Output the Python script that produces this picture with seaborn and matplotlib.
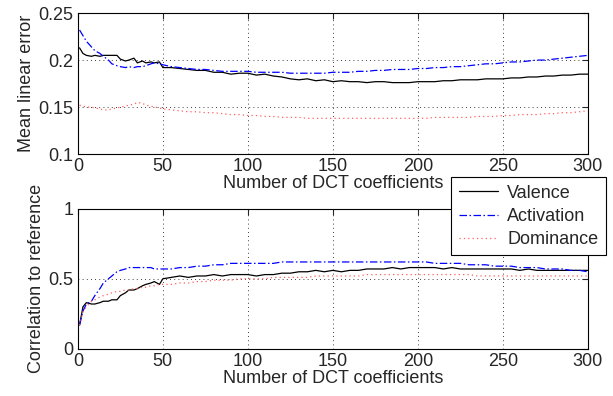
import matplotlib
matplotlib.use("Agg")
import matplotlib.pyplot as plt
import numpy as np
import pandas as pd
import seaborn as sns

# number of DCT coefficients (sampled every 5 after the start)
n_coef = [1, 3, 5, 8, 10, 13, 15, 18, 20, 23, 25, 28, 30, 33, 35, 38, 40, 43, 45, 48,
          50, 55, 60, 65, 70, 75, 80, 85, 90, 95, 100, 105, 110, 115, 120, 125, 130,
          135, 140, 145, 150, 155, 160, 165, 170, 175, 180, 185, 190, 195, 200, 205,
          210, 215, 220, 225, 230, 235, 240, 245, 250, 255, 260, 265, 270, 275, 280,
          285, 290, 295, 300]

# mean linear error
err_valence = [0.213, 0.207, 0.205, 0.204, 0.205, 0.204, 0.205, 0.205, 0.205, 0.205,
               0.201, 0.199, 0.200, 0.202, 0.197, 0.199, 0.197, 0.198, 0.197, 0.198,
               0.192, 0.192, 0.191, 0.190, 0.189, 0.189, 0.187, 0.187, 0.185, 0.186,
               0.186, 0.184, 0.185, 0.183, 0.182, 0.180, 0.179, 0.180, 0.178, 0.179,
               0.177, 0.178, 0.177, 0.177, 0.176, 0.177, 0.177, 0.176, 0.176, 0.176,
               0.177, 0.177, 0.177, 0.178, 0.178, 0.179, 0.179, 0.179, 0.180, 0.180,
               0.180, 0.181, 0.181, 0.182, 0.182, 0.183, 0.183, 0.184, 0.184, 0.185,
               0.185]
err_activation = [0.232, 0.226, 0.220, 0.214, 0.210, 0.207, 0.204, 0.200, 0.196, 0.194,
                  0.193, 0.192, 0.193, 0.192, 0.193, 0.193, 0.194, 0.196, 0.197, 0.196,
                  0.195, 0.193, 0.192, 0.191, 0.190, 0.190, 0.189, 0.188, 0.188, 0.188,
                  0.188, 0.187, 0.187, 0.187, 0.187, 0.186, 0.186, 0.186, 0.186, 0.186,
                  0.187, 0.187, 0.187, 0.188, 0.188, 0.189, 0.189, 0.190, 0.190, 0.190,
                  0.191, 0.191, 0.192, 0.192, 0.193, 0.193, 0.194, 0.195, 0.196, 0.196,
                  0.197, 0.198, 0.198, 0.199, 0.200, 0.200, 0.201, 0.202, 0.203, 0.204,
                  0.205]
err_dominance = [0.152, 0.151, 0.150, 0.150, 0.149, 0.148, 0.147, 0.147, 0.148, 0.149,
                 0.150, 0.151, 0.152, 0.153, 0.155, 0.154, 0.152, 0.151, 0.150, 0.149,
                 0.148, 0.147, 0.146, 0.145, 0.145, 0.144, 0.144, 0.143, 0.142, 0.142,
                 0.141, 0.141, 0.140, 0.140, 0.139, 0.139, 0.139, 0.138, 0.138, 0.138,
                 0.138, 0.138, 0.138, 0.138, 0.138, 0.138, 0.138, 0.138, 0.138, 0.138,
                 0.138, 0.138, 0.139, 0.139, 0.139, 0.139, 0.139, 0.140, 0.140, 0.140,
                 0.141, 0.141, 0.142, 0.142, 0.142, 0.143, 0.143, 0.144, 0.144, 0.145,
                 0.146]

# correlation to reference
cor_valence = [0.17, 0.30, 0.33, 0.32, 0.32, 0.33, 0.34, 0.34, 0.35, 0.35,
               0.38, 0.40, 0.42, 0.42, 0.43, 0.45, 0.46, 0.47, 0.48, 0.46,
               0.50, 0.51, 0.52, 0.51, 0.52, 0.52, 0.53, 0.52, 0.53, 0.53,
               0.53, 0.52, 0.53, 0.53, 0.54, 0.54, 0.55, 0.55, 0.56, 0.55,
               0.56, 0.55, 0.56, 0.56, 0.57, 0.57, 0.57, 0.58, 0.57, 0.58,
               0.58, 0.58, 0.58, 0.57, 0.58, 0.57, 0.57, 0.57, 0.57, 0.57,
               0.57, 0.57, 0.56, 0.57, 0.56, 0.56, 0.56, 0.56, 0.56, 0.56,
               0.56]
cor_activation = [0.17, 0.27, 0.32, 0.34, 0.38, 0.43, 0.47, 0.50, 0.52, 0.55,
                  0.56, 0.57, 0.58, 0.58, 0.58, 0.58, 0.58, 0.58, 0.57, 0.57,
                  0.57, 0.57, 0.58, 0.58, 0.59, 0.59, 0.60, 0.60, 0.61, 0.61,
                  0.61, 0.61, 0.61, 0.61, 0.62, 0.62, 0.62, 0.62, 0.62, 0.62,
                  0.62, 0.62, 0.62, 0.62, 0.62, 0.62, 0.62, 0.62, 0.62, 0.62,
                  0.62, 0.62, 0.61, 0.61, 0.61, 0.61, 0.60, 0.60, 0.60, 0.59,
                  0.59, 0.59, 0.58, 0.58, 0.58, 0.57, 0.57, 0.57, 0.56, 0.56,
                  0.55]
cor_dominance = [0.17, 0.26, 0.30, 0.34, 0.35, 0.37, 0.38, 0.39, 0.40, 0.41,
                 0.41, 0.42, 0.42, 0.43, 0.43, 0.44, 0.44, 0.45, 0.45, 0.46,
                 0.46, 0.46, 0.47, 0.47, 0.48, 0.48, 0.49, 0.49, 0.49, 0.50,
                 0.50, 0.50, 0.50, 0.51, 0.51, 0.51, 0.51, 0.51, 0.52, 0.52,
                 0.52, 0.52, 0.52, 0.52, 0.53, 0.53, 0.53, 0.53, 0.53, 0.53,
                 0.53, 0.53, 0.53, 0.53, 0.53, 0.53, 0.53, 0.52, 0.52, 0.52,
                 0.52, 0.52, 0.52, 0.52, 0.52, 0.52, 0.52, 0.52, 0.52, 0.52,
                 0.52]

series_names = ["Valence", "Activation", "Dominance"]
series_colors = {"Valence": "black", "Activation": "#0000ff", "Dominance": "#ff6060"}
series_dashes = {"Valence": "", "Activation": (6, 2, 1.2, 2), "Dominance": (1, 2.5)}

sns.set_style("white")
plt.rcParams["font.family"] = ["Liberation Sans", "DejaVu Sans"]
plt.rcParams["font.size"] = 13
plt.rcParams["xtick.direction"] = "in"
plt.rcParams["ytick.direction"] = "in"

err_df = pd.DataFrame({"n": n_coef * 3,
                       "value": err_valence + err_activation + err_dominance,
                       "series": np.repeat(series_names, len(n_coef))})
cor_df = pd.DataFrame({"n": n_coef * 3,
                       "value": cor_valence + cor_activation + cor_dominance,
                       "series": np.repeat(series_names, len(n_coef))})

fig = plt.figure(figsize=(6.13, 3.96), dpi=100)
ax1 = fig.add_axes([0.127, 0.611, 0.832, 0.356])
ax2 = fig.add_axes([0.127, 0.119, 0.832, 0.354])


def fmt(v):
    return ("%g" % v)


for ax, df, yticks, ylim, ylabel in [
        (ax1, err_df, [0.1, 0.15, 0.2, 0.25], (0.1, 0.25), "Mean linear error"),
        (ax2, cor_df, [0, 0.5, 1], (0, 1), "Correlation to reference")]:
    sns.lineplot(data=df, x="n", y="value", hue="series", style="series",
                 palette=series_colors, dashes=series_dashes, linewidth=0.9,
                 ax=ax, legend=(ax is ax1))
    ax.set_xlim(0, 300)
    ax.set_ylim(*ylim)
    ax.set_xticks([0, 50, 100, 150, 200, 250, 300])
    ax.set_yticks(yticks)
    ax.set_yticklabels([fmt(v) for v in yticks])
    ax.grid(True, color="black", linestyle=(0, (1, 4)), linewidth=0.6)
    ax.set_xlabel("Number of DCT coefficients", labelpad=0)
    ax.set_ylabel(ylabel, labelpad=3)
    ax.tick_params(top=True, right=True, length=4, width=0.8, pad=3)
    for sp in ax.spines.values():
        sp.set_linewidth(0.8)
        sp.set_color("black")

handles, labels = ax1.get_legend_handles_labels()
ax1.get_legend().remove()
leg = fig.legend(handles, labels, loc="upper right", bbox_to_anchor=(0.988, 0.552),
                 borderaxespad=0, frameon=True, fancybox=False, edgecolor="black",
                 framealpha=1, borderpad=0.4, labelspacing=0.35, handlelength=2.2,
                 handletextpad=0.5, fontsize=13)
leg.get_frame().set_linewidth(0.8)

fig.savefig("out.png", dpi=100)
